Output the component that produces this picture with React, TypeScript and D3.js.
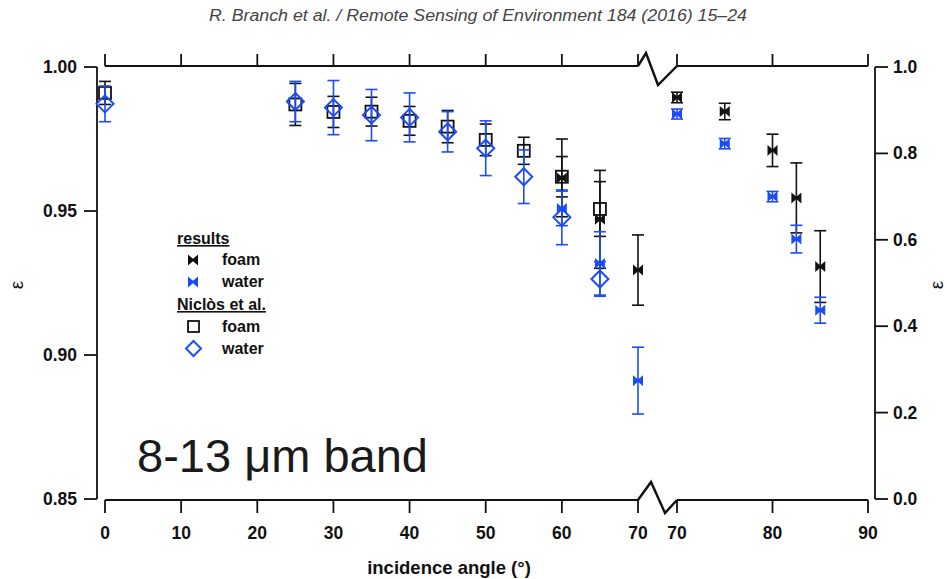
import React from "react";
import * as d3 from "d3";

// Niclòs et al. reference emissivities (0–65°)
const niclosAngles = [0, 25, 30, 35, 40, 45, 50, 55, 60, 65];
const niclosFoam = [0.991, 0.987, 0.9844, 0.9845, 0.9813, 0.9793, 0.9747, 0.9709, 0.9619, 0.9507];
const niclosFoamErr = [0.004, 0.0073, 0.0054, 0.005, 0.005, 0.0056, 0.0055, 0.0047, 0.007, 0.0095];
const niclosWater = [0.9872, 0.988, 0.9859, 0.9833, 0.9825, 0.9775, 0.9718, 0.9619, 0.9478, 0.9264];
const niclosWaterErr = [0.0062, 0.007, 0.0094, 0.0089, 0.0085, 0.007, 0.0095, 0.0093, 0.0095, 0.006];

// Measured emissivities (60–85°)
const resultAngles = [60, 65, 70, 75, 80, 82.5, 85];
const resultFoam = [0.9615, 0.9471, 0.9295, 0.897, 0.807, 0.697, 0.538];
const resultFoamErr = [0.0135, 0.017, 0.0122, 0.019, 0.0375, 0.081, 0.083];
const resultWater = [0.9509, 0.9318, 0.8911, 0.8226, 0.7, 0.6016, 0.437];
const resultWaterErr = [0.006, 0.011, 0.0116, 0.012, 0.012, 0.032, 0.03];

const leftXTicks = [0, 10, 20, 30, 40, 50, 60, 70];
const rightXTicks = [70, 80, 90];
const leftYTicks = [0.85, 0.9, 0.95, 1.0];
const rightYTicks = [0, 0.2, 0.4, 0.6, 0.8, 1.0];

const BLUE = "#1b4cf7";
const BLACK = "#111";
const FONT = "'Liberation Sans', Arial, sans-serif";

const xLeft = d3.scaleLinear().domain([0, 70]).range([105, 638]);
const xRight = d3.scaleLinear().domain([70, 90]).range([677, 868]);
const yLeft = d3.scaleLinear().domain([0.85, 1.0]).range([499, 67]);
const yRight = d3.scaleLinear().domain([0, 1]).range([499, 67]);

const bowtie = "M-5,-5.5 L0,-1.2 L5,-5.5 L5,5.5 L0,1.2 L-5,5.5 Z";

type Pt = { x: number; y: number; lo: number; hi: number };

function ErrBar({ p, color, cap = 6 }: { p: Pt; color: string; cap?: number }) {
  return (
    <g stroke={color} strokeWidth={1.6} fill="none">
      <line x1={p.x} x2={p.x} y1={p.hi} y2={p.lo} />
      <line x1={p.x - cap} x2={p.x + cap} y1={p.hi} y2={p.hi} />
      <line x1={p.x - cap} x2={p.x + cap} y1={p.lo} y2={p.lo} />
    </g>
  );
}

function points(angles: number[], vals: number[], errs: number[], panel: "left" | "right"): Pt[] {
  const xs = panel === "left" ? xLeft : xRight;
  const ys = panel === "left" ? yLeft : yRight;
  const out: Pt[] = [];
  angles.forEach((a, i) => {
    if (panel === "left" && (a > 70 || vals[i] < 0.85)) return;
    if (panel === "right" && a < 70) return;
    out.push({ x: xs(a), y: ys(vals[i]), lo: ys(vals[i] - errs[i]), hi: ys(vals[i] + errs[i]) });
  });
  return out;
}

export default function App() {
  const nFoam = points(niclosAngles, niclosFoam, niclosFoamErr, "left");
  const nWater = points(niclosAngles, niclosWater, niclosWaterErr, "left");
  const rFoam = [
    ...points(resultAngles, resultFoam, resultFoamErr, "left"),
    ...points(resultAngles, resultFoam, resultFoamErr, "right"),
  ];
  const rWater = [
    ...points(resultAngles, resultWater, resultWaterErr, "left"),
    ...points(resultAngles, resultWater, resultWaterErr, "right"),
  ];

  const axisY = 500;
  const topY = 66;

  return (
    <svg width={947} height={579} style={{ position: "absolute", left: 0, top: 0, background: "#fff" }} fontFamily={FONT}>
      {/* header */}
      <text x={478} y={21} textAnchor="middle" fontFamily="'Liberation Sans Narrow', 'Liberation Sans', sans-serif" fontStyle="italic" fontSize={16} fill="#444" textLength={538} lengthAdjust="spacingAndGlyphs">
        R. Branch et al. / Remote Sensing of Environment 184 (2016) 15–24
      </text>

      <g stroke={BLACK} strokeWidth={1.8} fill="none">
        {/* left y axis */}
        <line x1={97} x2={97} y1={yLeft(1.0)} y2={yLeft(0.85)} />
        {leftYTicks.map((t) => (
          <line key={t} x1={84} x2={97} y1={yLeft(t)} y2={yLeft(t)} />
        ))}
        {/* right y axis */}
        <line x1={875} x2={875} y1={yRight(1)} y2={yRight(0)} />
        {rightYTicks.map((t) => (
          <line key={t} x1={875} x2={888} y1={yRight(t)} y2={yRight(t)} />
        ))}
        {/* bottom axis with break */}
        <line x1={xLeft(0)} x2={xLeft(70)} y1={axisY} y2={axisY} />
        <polyline points={`${xLeft(70)},${axisY} 651,482 665,513 ${xRight(70)},${axisY}`} strokeWidth={2.4} />
        <line x1={xRight(70)} x2={xRight(90)} y1={axisY} y2={axisY} />
        {leftXTicks.map((t) => (
          <line key={"bl" + t} x1={xLeft(t)} x2={xLeft(t)} y1={axisY} y2={axisY + 13} />
        ))}
        {rightXTicks.map((t) => (
          <line key={"br" + t} x1={xRight(t)} x2={xRight(t)} y1={axisY} y2={axisY + 13} />
        ))}
        {/* top axis with break */}
        <line x1={xLeft(0)} x2={xLeft(70)} y1={topY} y2={topY} />
        <polyline points={`${xLeft(70)},${topY} 646,53 658,85 ${xRight(70)},${topY}`} strokeWidth={2.4} />
        <line x1={xRight(70)} x2={xRight(90)} y1={topY} y2={topY} />
        {leftXTicks.map((t) => (
          <line key={"tl" + t} x1={xLeft(t)} x2={xLeft(t)} y1={topY} y2={topY - 12} />
        ))}
        {rightXTicks.map((t) => (
          <line key={"tr" + t} x1={xRight(t)} x2={xRight(t)} y1={topY} y2={topY - 12} />
        ))}
      </g>

      {/* tick labels */}
      <g fontWeight="bold" fontSize={17.5} fill={BLACK}>
        {leftYTicks.map((t) => (
          <text key={t} x={77} y={yLeft(t) + 6} textAnchor="end">
            {d3.format(".2f")(t)}
          </text>
        ))}
        {rightYTicks.map((t) => (
          <text key={t} x={893} y={yRight(t) + 6}>
            {d3.format(".1f")(t)}
          </text>
        ))}
        {leftXTicks.map((t) => (
          <text key={"l" + t} x={xLeft(t)} y={539} textAnchor="middle">
            {t}
          </text>
        ))}
        {rightXTicks.map((t) => (
          <text key={"r" + t} x={xRight(t)} y={539} textAnchor="middle">
            {t}
          </text>
        ))}
        <text x={449} y={574} textAnchor="middle" fontSize={18.5}>
          incidence angle (°)
        </text>
      </g>

      {/* axis titles */}
      <text transform="translate(23,285) rotate(-90)" textAnchor="middle" fontSize={19} fill={BLACK}>ε</text>
      <text transform="translate(943,285) rotate(-90)" textAnchor="middle" fontSize={19} fill={BLACK}>ε</text>

      {/* Niclòs et al. foam */}
      {nFoam.map((p, i) => (
        <g key={"nf" + i}>
          <ErrBar p={p} color={BLACK} />
          <rect x={p.x - 6} y={p.y - 6} width={12} height={12} fill="none" stroke={BLACK} strokeWidth={1.8} />
        </g>
      ))}
      {/* Niclòs et al. water */}
      {nWater.map((p, i) => (
        <g key={"nw" + i}>
          <ErrBar p={p} color={BLUE} />
          <path d={`M${p.x},${p.y - 8.5} L${p.x + 8.5},${p.y} L${p.x},${p.y + 8.5} L${p.x - 8.5},${p.y} Z`} fill="none" stroke={BLUE} strokeWidth={2} />
        </g>
      ))}
      {/* results foam */}
      {rFoam.map((p, i) => (
        <g key={"rf" + i}>
          <ErrBar p={p} color={BLACK} />
          <path d={bowtie} transform={`translate(${p.x},${p.y})`} fill={BLACK} />
        </g>
      ))}
      {/* results water */}
      {rWater.map((p, i) => (
        <g key={"rw" + i}>
          <ErrBar p={p} color={BLUE} />
          <path d={bowtie} transform={`translate(${p.x},${p.y})`} fill={BLUE} />
        </g>
      ))}

      {/* legend */}
      <g fontWeight="bold" fontSize={16} fill={BLACK}>
        <text x={177} y={244} textDecoration="underline">results</text>
        <path d={bowtie} transform="translate(193,260)" fill={BLACK} />
        <text x={222} y={265}>foam</text>
        <path d={bowtie} transform="translate(193,282)" fill={BLUE} />
        <text x={222} y={287}>water</text>
        <text x={177} y={310} textDecoration="underline">Niclòs et al.</text>
        <rect x={188} y={321} width={11} height={11} fill="none" stroke={BLACK} strokeWidth={1.8} />
        <text x={222} y={332}>foam</text>
        <path d="M193.5,341 L201,348.5 L193.5,356 L186,348.5 Z" fill="none" stroke={BLUE} strokeWidth={2} />
        <text x={222} y={354}>water</text>
      </g>

      <text x={137} y={472} fontSize={47} fill="#1a1a1a">8-13 μm band</text>
    </svg>
  );
}
